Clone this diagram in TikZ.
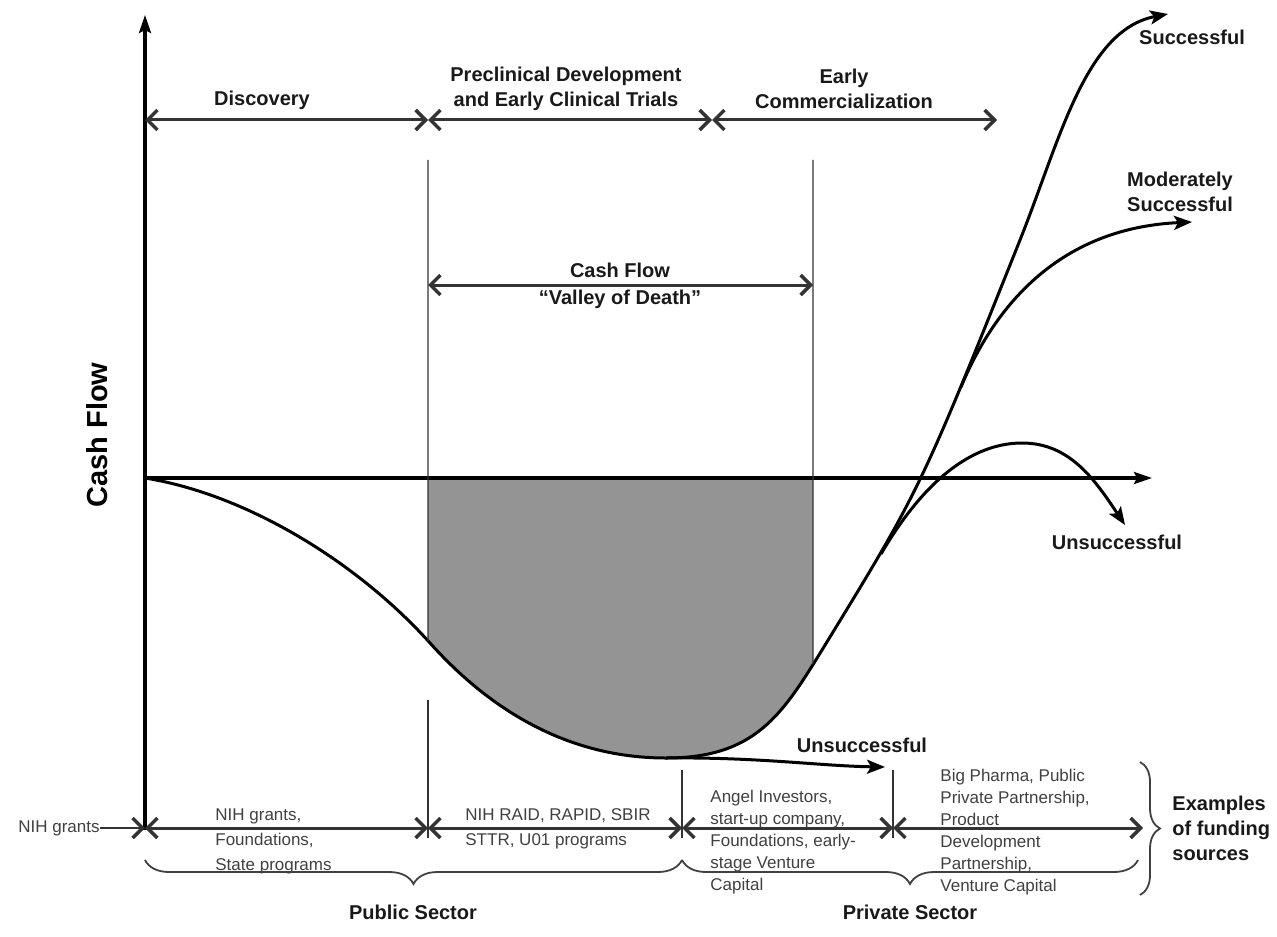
\documentclass[tikz,border=0pt]{standalone}
\usepackage{fontspec}
\setmainfont{Liberation Sans}
\usetikzlibrary{arrows.meta, decorations.pathreplacing, positioning, calc, intersections}

\begin{document}
\begin{tikzpicture}[x=0.5pt,y=-0.5pt,
  lbl/.style={font=\fontsize{10}{12.5}\selectfont\bfseries, text=black!90, align=center, inner sep=0pt},
  src/.style={font=\fontsize{8.5}{11}\selectfont, text=black!75, align=left, anchor=north west, inner sep=0pt},
  spanarrow/.style={line width=1.5pt, draw=black!80, {Straight Barb[length=5pt,width=10pt,line width=1.7pt]}-{Straight Barb[length=5pt,width=10pt,line width=1.7pt]}},
  onearrow/.style={line width=0.9pt, draw=black!80, -{Straight Barb[length=5pt,width=10pt,line width=1.7pt]}},
  tickline/.style={line width=0.6pt, draw=black!80},
  axisline/.style={line width=1.6pt, -{Stealth[length=9pt,width=6pt,inset=1.5pt]}},
  flowline/.style={line width=1.5pt, -{Stealth[length=9pt,width=7pt,inset=2pt]}},
  sectorbrace/.style={decorate, decoration={brace, amplitude=12pt}, line width=0.9pt, draw=black!75}]
  \useasboundingbox (0,0) rectangle (1277,936);
  % Valley of death shading
  \begin{scope}
    \clip (428,478) rectangle (813,800);
    \fill[black!42] (145,478) .. controls (250,495) and (360,565) .. (430,643)
      .. controls (500,721) and (580,758) .. (666,758)
      .. controls (755,758) and (782,715) .. (822,650)
      .. controls (920,490) and (920,490) .. (1020,240) -- (1020,478) -- cycle;
  \end{scope}
  % Axes
  \coordinate (o) at (145,478);
  \coordinate (ax_b) at (145,830);
  \coordinate (ax_t) at (145,15);
  \coordinate (ax_r) at (1152,478);
  \draw[axisline] (ax_b) -- (ax_t);
  \draw[axisline] (o) -- (ax_r);
  \node[rotate=90, font=\fontsize{14.5}{17}\selectfont\bfseries] (cfl) at (97,435) {Cash Flow};
  % Phases
  \coordinate (ph_0) at (145,120);
  \coordinate (ph_1) at (428,120);
  \coordinate (ph_2) at (712,120);
  \coordinate (ph_3) at (997,120);
  \draw[spanarrow] (ph_0) -- (ph_1);
  \draw[spanarrow] (ph_1) -- (ph_2);
  \draw[spanarrow] (ph_2) -- (ph_3);
  \node[lbl] (disc) at (262,100) {Discovery};
  \node[lbl] (precl) at (566,89) {Preclinical Development\\and Early Clinical Trials};
  \node[lbl] (comm) at (844,89) {Early\\Commercialization};
  % Cash flow curve
  \draw[flowline, name path=valley] (o) .. controls (250,495) and (360,565) .. (430,643)
    .. controls (500,721) and (580,758) .. (666,758)
    .. controls (755,758) and (782,715) .. (822,650)
    .. controls (920,490) and (920,490) .. (1020,240)
    .. controls (1060,140) and (1085,30) .. (1168,14);
  \draw[flowline] (961,387) .. controls (995,305) and (1060,228) .. (1192,222);
  \draw[flowline] (881,554) .. controls (930,470) and (980,443) .. (1022,443) .. controls (1070,443) and (1095,480) .. (1125,525);
  \draw[flowline] (666,758) .. controls (760,757) and (820,766) .. (885,767);
  \node[lbl] (succ) at (1192,37) {Successful};
  \node[lbl] (mods) at (1180,192) {Moderately\\Successful};
  \node[lbl] (uns_a) at (1117,542) {Unsuccessful};
  \node[lbl] (uns_b) at (862,745) {Unsuccessful};
  % Valley of death
  \coordinate (vl_t) at (428,160);
  \coordinate (vr_t) at (813,160);
  \path[name path=vl] (428,150) -- (428,800);
  \path[name path=vr] (813,150) -- (813,800);
  \path[name intersections={of=valley and vl, by={vl_b}}];
  \path[name intersections={of=valley and vr, by={vr_b}}];
  \draw[tickline] (vl_t) -- (vl_b);
  \draw[tickline] (vr_t) -- (vr_b);
  \coordinate (cf_l) at (428,285);
  \coordinate (cf_r) at (813,285);
  \draw[spanarrow] (cf_l) -- (cf_r);
  \node[lbl] (vod) at (620,286) {Cash Flow\\[1pt]“Valley of Death”};
  % Funding sources
  \node[src, anchor=east] (nih) at (100,828) {NIH grants};
  \coordinate (fs_0) at (145,828);
  \coordinate (fs_1) at (428,828);
  \coordinate (fs_2) at (682,828);
  \coordinate (fs_3) at (893,828);
  \coordinate (fs_4) at (1143,828);
  \draw[onearrow] (nih) -- (fs_0);
  \draw[spanarrow] (fs_0) -- (fs_1);
  \draw[spanarrow] (fs_1) -- (fs_2);
  \draw[spanarrow] (fs_2) -- (fs_3);
  \draw[spanarrow] (fs_3) -- (fs_4);
  \draw[tickline] (428,700) -- (428,838);
  \draw[tickline] (682,770) -- (682,838);
  \draw[tickline] (893,770) -- (893,838);
  \node[src, font=\fontsize{8.5}{12.5}\selectfont] (pub_1) at (215,808) {NIH grants,\\Foundations,\\State programs};
  \node[src, font=\fontsize{8.5}{12.5}\selectfont] (pub_2) at (465,808) {NIH RAID, RAPID, SBIR\\STTR, U01 programs};
  \node[src] (priv_1) at (710,790) {Angel Investors,\\start-up company,\\Foundations, early-\\stage Venture\\Capital};
  \node[src] (priv_2) at (940,769) {Big Pharma, Public\\Private Partnership,\\Product\\Development\\Partnership,\\Venture Capital};
  % Sectors
  \draw[sectorbrace] (682,860) -- (145,860);
  \draw[sectorbrace] (1138,860) -- (682,860);
  \draw[sectorbrace, decoration={amplitude=10pt}] (1140,762) -- (1140,895);
  \node[lbl] (pubs) at (413,912) {Public Sector};
  \node[lbl] (privs) at (910,912) {Private Sector};
  \node[lbl, align=left, anchor=west] (ex) at (1172,828) {Examples\\of funding\\sources};
\end{tikzpicture}
\end{document}
